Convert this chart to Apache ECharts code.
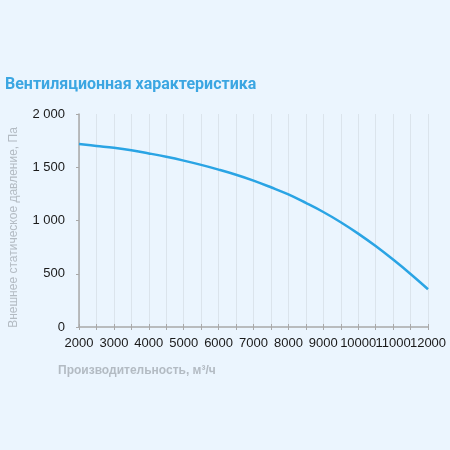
<!doctype html>
<html lang="ru">
<head>
<meta charset="UTF-8">
<title>Вентиляционная характеристика</title>
<style>
  html, body { margin: 0; padding: 0; background: #ebf5fe; }
  #main { width: 450px; height: 450px; }
</style>
</head>
<body>
<div id="main"></div>
<script src="https://cdn.jsdelivr.net/npm/echarts@6/dist/echarts.min.js"></script>
<script>
// расход воздуха, м3/ч
var flow = [2000, 2500, 3000, 3500, 4000, 4500, 5000, 5500, 6000, 6500, 7000,
            7500, 8000, 8500, 9000, 9500, 10000, 10500, 11000, 11500, 12000];
// внешнее статическое давление, Па
var pressure = [1718, 1700, 1683, 1660, 1630, 1598, 1562, 1522, 1478, 1430, 1375,
                1312, 1245, 1165, 1080, 984, 877, 760, 633, 498, 355];
var yTicks = ['0', '500', '1 000', '1 500', '2 000'];

var chart = echarts.init(document.getElementById('main'));

var points = [];
for (var i = 0; i < flow.length; i++) {
    points.push([flow[i], pressure[i]]);
}

var axisGray = '#a9a9a9';
var labelFont = '"Liberation Sans", Arial, sans-serif';

var option = {
    backgroundColor: '#ebf5fe',
    title: {
        text: 'Вентиляционная характеристика',
        left: 0,
        top: 72,
        textStyle: {
            fontFamily: 'Roboto, Arial, sans-serif',
            fontSize: 16,
            fontWeight: 'bold',
            color: '#3ba6e2'
        }
    },
    grid: {
        left: 77,
        right: 22,
        top: 114,
        bottom: 123
    },
    xAxis: [{
        type: 'value',
        min: 2000,
        max: 12000,
        interval: 500,
        axisLine: { lineStyle: { color: axisGray, width: 1.5 } },
        axisTick: { length: 3, lineStyle: { color: axisGray } },
        axisLabel: {
            margin: 10,
            fontFamily: labelFont,
            fontSize: 13,
            color: '#1a1a1a',
            formatter: function (v) { return v % 1000 === 0 ? String(v) : ''; }
        },
        splitLine: { show: true, lineStyle: { color: '#dbe4ec', width: 1 } }
    }, {
        // второй слой: засечки внутрь, чтобы пересекали ось
        type: 'value',
        position: 'bottom',
        min: 2000,
        max: 12000,
        interval: 500,
        axisLine: { show: false },
        axisTick: { inside: true, length: 3, lineStyle: { color: axisGray } },
        axisLabel: { show: false },
        splitLine: { show: false }
    }],
    yAxis: {
        type: 'value',
        min: 0,
        max: 2000,
        interval: 500,
        name: 'Внешнее статическое давление, Па',
        nameLocation: 'middle',
        nameGap: 59,
        nameTextStyle: {
            fontFamily: labelFont,
            fontSize: 12,
            color: '#b3bbc3',
            padding: [0, 0, 0, -14]
        },
        axisLine: { show: true, lineStyle: { color: axisGray, width: 1.5 } },
        axisTick: { show: true, length: 3, lineStyle: { color: axisGray } },
        axisLabel: {
            margin: 14,
            fontFamily: labelFont,
            fontSize: 13,
            color: '#1a1a1a',
            formatter: function (v) { return yTicks[v / 500]; }
        },
        splitLine: { show: false }
    },
    graphic: [{
        type: 'text',
        left: 58,
        top: 365,
        style: {
            text: 'Производительность, м³/ч',
            fontFamily: labelFont,
            fontSize: 12,
            fontWeight: 'bold',
            fill: '#b3bbc3'
        }
    }],
    series: [{
        type: 'line',
        data: points,
        smooth: 0.4,
        showSymbol: false,
        lineStyle: { color: '#2aa4e4', width: 2.5 },
        animation: false
    }]
};

chart.setOption(option);
</script>
</body>
</html>
